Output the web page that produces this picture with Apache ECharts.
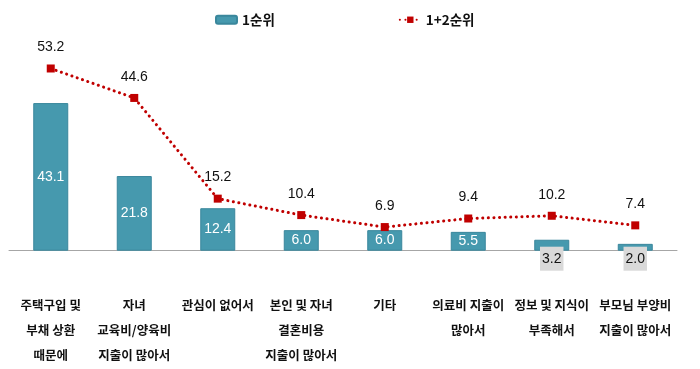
<!DOCTYPE html>
<html><head><meta charset="utf-8">
<script src="https://cdn.jsdelivr.net/npm/echarts@6/dist/echarts.min.js"></script>
<style>html,body{margin:0;padding:0;background:#fff}#c{width:700px;height:369px}</style>
</head><body><div id="c"></div>
<script>
const categories = ['주택구입 및\n부채 상환\n때문에','자녀\n교육비/양육비\n지출이 많아서','관심이 없어서','본인 및 자녀\n결혼비용\n지출이 많아서','기타','의료비 지출이\n많아서','정보 및 지식이\n부족해서','부모님 부양비\n지출이 많아서'];
const rank1 = [43.1, 21.8, 12.4, 6.0, 6.0, 5.5, 3.2, 2.0];
const rank12 = [53.2, 44.6, 15.2, 10.4, 6.9, 9.4, 10.2, 7.4];
const seriesNames = ['1순위', '1+2순위'];

const chart = echarts.init(document.getElementById('c'));
const barData = rank1.map(v => {
  if (v < 4) {
    return {value: v, label: {position: 'bottom', distance: -4, color: '#111', backgroundColor: '#d9d9d9', padding: [5, 2, 5, 2]}};
  }
  return v;
});
chart.setOption({
  animation: false,
  legend: {
    left: 210, top: 8, itemGap: 124, itemWidth: 21, itemHeight: 8,
    textStyle: {fontSize: 13.5, fontWeight: 'bold', color: '#111', fontFamily: 'Noto Sans CJK KR'},
    data: seriesNames
  },
  grid: {left: 9, right: 23, top: 45.2, bottom: 118.3},
  xAxis: {
    type: 'category', data: categories,
    axisLine: {lineStyle: {color: '#a6a6a6', width: 1}},
    axisTick: {show: false},
    axisLabel: {interval: 0, margin: 42, fontSize: 12.5, lineHeight: 25, fontWeight: 'bold', color: '#111', fontFamily: 'Noto Sans CJK KR'}
  },
  yAxis: {type: 'value', min: 0, max: 60, show: false, splitLine: {show: false}},
  series: [
    {
      name: seriesNames[0], type: 'bar', data: barData, barWidth: 35,
      itemStyle: {color: '#4699ae', borderColor: '#3a879c', borderWidth: 1},
      label: {show: true, position: 'inside', color: '#fff', fontSize: 14, fontFamily: 'Liberation Sans', formatter: p => p.value.toFixed(1)}
    },
    {
      name: seriesNames[1], type: 'line', data: rank12,
      symbol: 'rect', symbolSize: 8,
      itemStyle: {color: '#c00000'},
      lineStyle: {color: '#c00000', width: 3, type: [0.1, 5.5], cap: 'round'},
      label: {show: true, position: 'top', distance: 10, color: '#111', fontSize: 14, fontFamily: 'Liberation Sans', formatter: p => p.value.toFixed(1)}
    }
  ]
});
</script></body></html>
